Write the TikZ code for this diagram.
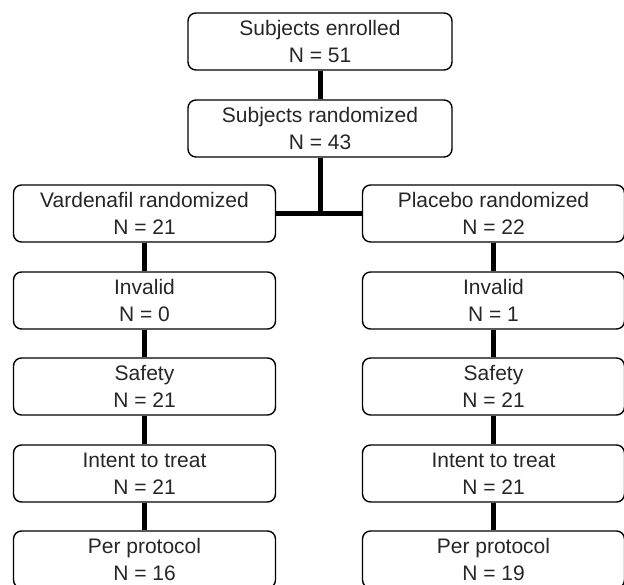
\documentclass[tikz,border=0pt]{standalone}
\usepackage{fontspec}
\setmainfont{Liberation Sans}
\begin{document}
\begin{tikzpicture}[x=1pt,y=-1pt,
  box/.style={draw=black, line width=1.4pt, rounded corners=8pt, minimum width=262pt, minimum height=57pt, inner sep=0pt, align=center, font=\fontsize{21}{27}\selectfont, text=black!85},
  conn/.style={line width=5pt, draw=black}]
\useasboundingbox (0,0) rectangle (624,585);
\node[box, minimum width=264pt] (s1) at (320,41.5) {Subjects enrolled\\N = 51};
\node[box, minimum width=264pt] (s2) at (320,128.5) {Subjects randomized\\N = 43};
\node[box] (v1) at (144.5,213.5) {Vardenafil randomized\\N = 21};
\node[box] (v2) at (144.5,300.5) {Invalid\\N = 0};
\node[box] (v3) at (144.5,386.5) {Safety\\N = 21};
\node[box] (v4) at (144.5,473.5) {Intent to treat\\N = 21};
\node[box] (v5) at (144.5,559.5) {Per protocol\\N = 16};
\node[box] (p1) at (493.5,213.5) {Placebo randomized\\N = 22};
\node[box] (p2) at (493.5,300.5) {Invalid\\N = 1};
\node[box] (p3) at (493.5,386.5) {Safety\\N = 21};
\node[box] (p4) at (493.5,473.5) {Intent to treat\\N = 21};
\node[box] (p5) at (493.5,559.5) {Per protocol\\N = 19};
\draw[conn] (s1) -- (s2);
\draw[conn] (s2.south) -- (s2.south |- v1.east);
\draw[conn] (v1.east) -- (p1.west);
\draw[conn] (v1) -- (v2);
\draw[conn] (v2) -- (v3);
\draw[conn] (v3) -- (v4);
\draw[conn] (v4) -- (v5);
\draw[conn] (p1) -- (p2);
\draw[conn] (p2) -- (p3);
\draw[conn] (p3) -- (p4);
\draw[conn] (p4) -- (p5);
\end{tikzpicture}
\end{document}
